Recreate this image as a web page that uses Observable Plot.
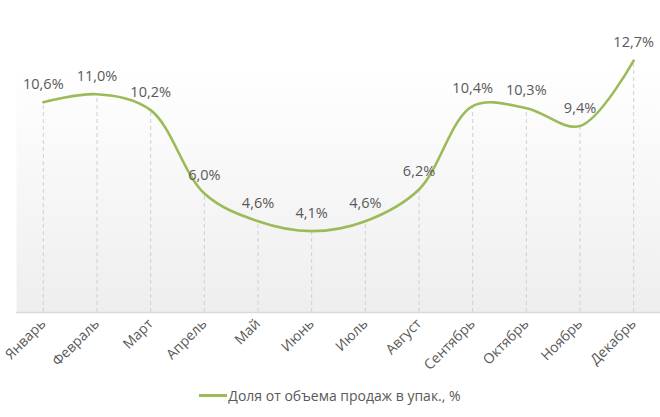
<!DOCTYPE html>
<html>
<head>
<meta charset="utf-8">
<script src="https://cdn.jsdelivr.net/npm/d3@7"></script>
<script src="https://cdn.jsdelivr.net/npm/@observablehq/plot@0.6"></script>
<style>
  body { margin: 0; background: #fff; font-family: "Open Sans", sans-serif; }
  #wrap { position: relative; width: 660px; height: 417px; }
  #legend { position: absolute; left: 0; width: 660px; top: 386px; display: flex; justify-content: center; align-items: center; font-size: 14px; color: #595959; }
  #legend .sw { width: 28px; height: 3px; background: #9bbb59; margin-right: 1px; }
</style>
</head>
<body>
<div id="wrap">
  <div id="chart"></div>
  <div id="legend"><span class="sw"></span><span>Доля от объема продаж в упак., %</span></div>
</div>
<script>
const months = ["Январь","Февраль","Март","Апрель","Май","Июнь","Июль","Август","Сентябрь","Октябрь","Ноябрь","Декабрь"];
const values = [10.6, 11.0, 10.2, 6.0, 4.6, 4.1, 4.6, 6.2, 10.4, 10.3, 9.4, 12.7];
const seriesName = "Доля от объема продаж в упак., %";

const data = months.map((m, i) => ({month: m, value: values[i]}));
const fmt = v => v.toFixed(1).replace(".", ",") + "%";

const chart = Plot.plot({
  width: 660,
  height: 372,
  marginTop: 66,
  marginBottom: 60,
  marginLeft: 16,
  marginRight: 0,
  style: {fontFamily: "'Open Sans', sans-serif", color: "#595959", background: "transparent"},
  x: {type: "point", domain: months, padding: 0.5, round: false},
  y: {domain: [0, 12.4], axis: null},
  marks: [
    Plot.frame({fill: "url(#bggrad)", stroke: null}),
    Plot.ruleX(data, {x: "month", y1: 0, y2: "value", stroke: "#d0d0d0", strokeDasharray: "4,3", strokeWidth: 1}),
    Plot.ruleY([0], {stroke: "#d9d9d9", strokeWidth: 1.5}),
    Plot.line(data, {x: "month", y: "value", curve: "catmull-rom", stroke: "#9bbb59", strokeWidth: 2.6}),
    Plot.text(data, {x: "month", y: "value", text: d => fmt(d.value), dy: -18, fontSize: 14.5, fill: "#595959"}),
    Plot.axisX({tickRotate: -45, tickSize: 0, tickPadding: 9, fontSize: 14, fill: "#595959", label: null})
  ]
});
chart.insertAdjacentHTML("afterbegin",
  '<defs><linearGradient id="bggrad" x1="0" y1="0" x2="0" y2="1"><stop offset="0" stop-color="#ffffff"/><stop offset="1" stop-color="#eeeeee"/></linearGradient></defs>');
document.getElementById("chart").appendChild(chart);
</script>
</body>
</html>
